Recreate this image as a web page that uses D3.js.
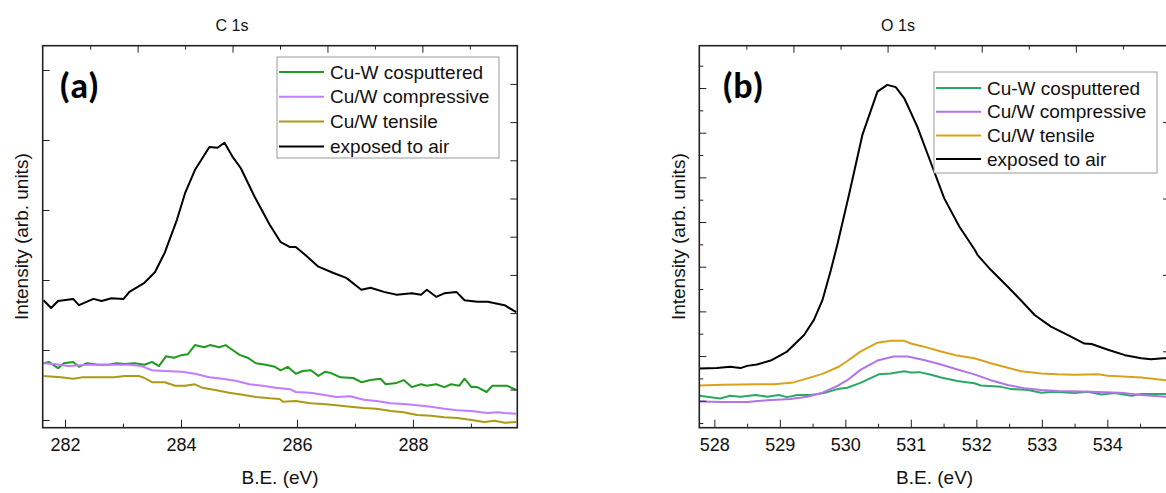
<!DOCTYPE html>
<html>
<head>
<meta charset="utf-8">
<script src="https://cdn.jsdelivr.net/npm/d3@7"></script>
<style>
  body { margin: 0; background: #fff; }
  svg text { font-family: "Liberation Sans", Arial, sans-serif; }
</style>
</head>
<body>
<svg id="chart" width="1166" height="493"></svg>
<script>
//////////////////// DATA ////////////////////

const seriesNames = ["Cu-W cosputtered", "Cu/W compressive", "Cu/W tensile", "exposed to air"];

// C 1s  [B.E. (eV), intensity (arb.)]
const c1sCosputtered = [[281.63,0.81],[281.72,0.83],[281.88,0.74],[281.98,0.81],[282.14,0.83],[282.24,0.76],[282.37,0.81],[282.57,0.79],[282.75,0.79],[282.89,0.81],[283.03,0.80],[283.20,0.81],[283.37,0.79],[283.50,0.83],[283.62,0.77],[283.74,0.91],[283.88,0.89],[284.02,0.93],[284.12,0.94],[284.24,1.07],[284.40,1.04],[284.50,1.07],[284.66,1.04],[284.77,1.07],[284.89,1.00],[285.01,0.93],[285.15,0.89],[285.29,0.81],[285.46,0.79],[285.62,0.76],[285.72,0.71],[285.84,0.76],[285.98,0.66],[286.10,0.70],[286.24,0.71],[286.37,0.63],[286.49,0.69],[286.59,0.67],[286.75,0.61],[286.97,0.60],[287.11,0.54],[287.27,0.57],[287.44,0.59],[287.53,0.51],[287.72,0.53],[287.84,0.57],[287.98,0.47],[288.14,0.51],[288.24,0.49],[288.40,0.51],[288.54,0.47],[288.66,0.51],[288.80,0.49],[288.89,0.59],[289.01,0.47],[289.11,0.47],[289.27,0.40],[289.37,0.49],[289.62,0.49],[289.78,0.43]];
const c1sCompressive = [[281.63,0.81],[281.81,0.80],[282.05,0.77],[282.40,0.79],[282.75,0.79],[283.10,0.79],[283.32,0.77],[283.50,0.71],[283.72,0.70],[284.02,0.69],[284.24,0.66],[284.49,0.61],[284.71,0.59],[284.94,0.56],[285.18,0.51],[285.41,0.49],[285.63,0.46],[285.88,0.44],[285.98,0.40],[286.23,0.39],[286.45,0.36],[286.68,0.33],[286.92,0.34],[287.15,0.29],[287.37,0.27],[287.62,0.24],[287.84,0.23],[288.07,0.21],[288.31,0.19],[288.54,0.16],[288.77,0.14],[289.01,0.13],[289.18,0.11],[289.29,0.10],[289.46,0.11],[289.58,0.10],[289.78,0.09]];
const c1sTensile = [[281.63,0.63],[281.93,0.61],[282.14,0.59],[282.31,0.61],[282.63,0.61],[282.85,0.61],[283.03,0.63],[283.27,0.63],[283.37,0.60],[283.50,0.54],[283.72,0.54],[283.90,0.49],[284.07,0.49],[284.24,0.51],[284.37,0.46],[284.59,0.43],[284.83,0.39],[285.06,0.36],[285.29,0.33],[285.53,0.31],[285.70,0.30],[285.76,0.26],[285.98,0.27],[286.23,0.24],[286.45,0.23],[286.68,0.21],[286.92,0.19],[287.15,0.17],[287.37,0.16],[287.62,0.13],[287.84,0.11],[288.07,0.07],[288.31,0.06],[288.54,0.04],[288.77,0.03],[289.01,0.00],[289.23,-0.03],[289.41,-0.01],[289.58,-0.04],[289.78,-0.03]];
const c1sAir = [[281.63,1.71],[281.76,1.60],[281.88,1.70],[282.14,1.73],[282.24,1.64],[282.49,1.73],[282.63,1.70],[282.80,1.74],[283.01,1.73],[283.11,1.83],[283.37,1.96],[283.55,2.11],[283.72,2.39],[283.93,2.86],[284.07,3.24],[284.24,3.57],[284.49,3.90],[284.63,3.89],[284.75,3.96],[284.89,3.76],[285.03,3.60],[285.27,3.19],[285.53,2.79],[285.72,2.54],[285.88,2.47],[285.98,2.47],[286.14,2.36],[286.37,2.19],[286.63,2.10],[286.85,2.03],[287.11,1.86],[287.27,1.89],[287.50,1.83],[287.72,1.79],[287.98,1.81],[288.14,1.79],[288.24,1.86],[288.40,1.76],[288.54,1.81],[288.75,1.83],[288.89,1.71],[289.11,1.69],[289.29,1.69],[289.58,1.64],[289.78,1.54]];

// O 1s  [B.E. (eV), intensity (arb.)]
const o1sCosputtered = [[527.77,0.11],[527.89,0.09],[528.09,0.05],[528.24,0.11],[528.40,0.09],[528.63,0.13],[528.81,0.09],[528.98,0.13],[529.11,0.08],[529.27,0.13],[529.47,0.13],[529.67,0.17],[529.88,0.26],[530.03,0.29],[530.23,0.40],[530.51,0.59],[530.69,0.61],[530.90,0.66],[531.00,0.63],[531.13,0.64],[531.31,0.58],[531.46,0.52],[531.71,0.44],[531.97,0.39],[532.07,0.34],[532.38,0.31],[532.53,0.26],[532.79,0.24],[532.99,0.18],[533.19,0.20],[533.50,0.17],[533.70,0.20],[533.91,0.14],[534.11,0.17],[534.37,0.11],[534.52,0.15],[534.96,0.15]];
const o1sCompressive = [[527.77,-0.02],[528.14,-0.03],[528.50,-0.03],[528.81,0.01],[529.16,0.04],[529.42,0.09],[529.65,0.18],[529.88,0.33],[530.03,0.46],[530.23,0.69],[530.49,0.90],[530.74,0.99],[530.95,0.99],[531.20,0.91],[531.46,0.81],[531.71,0.70],[531.97,0.59],[532.22,0.46],[532.48,0.35],[532.73,0.28],[532.99,0.24],[533.24,0.22],[533.76,0.20],[534.27,0.17],[534.52,0.13],[534.96,0.08]];
const o1sTensile = [[527.77,0.34],[528.14,0.36],[528.65,0.37],[528.91,0.37],[529.21,0.41],[529.42,0.50],[529.65,0.60],[529.90,0.76],[530.03,0.89],[530.23,1.10],[530.49,1.30],[530.69,1.34],[530.90,1.34],[531.00,1.28],[531.20,1.21],[531.46,1.10],[531.71,1.01],[531.97,0.95],[532.22,0.84],[532.48,0.74],[532.68,0.66],[532.99,0.61],[533.24,0.59],[533.50,0.58],[533.86,0.59],[534.01,0.56],[534.52,0.52],[534.96,0.45]];
const o1sAir = [[527.77,0.72],[528.04,0.73],[528.24,0.76],[528.40,0.73],[528.50,0.78],[528.65,0.81],[528.86,0.90],[529.11,1.10],[529.37,1.47],[529.52,1.81],[529.65,2.25],[529.78,2.93],[529.88,3.51],[530.06,4.64],[530.26,5.95],[530.49,6.92],[530.64,7.07],[530.77,7.02],[530.90,6.77],[531.10,6.13],[531.31,5.31],[531.51,4.53],[531.74,3.90],[531.97,3.39],[532.02,3.26],[532.22,2.93],[532.48,2.55],[532.68,2.25],[532.89,1.92],[533.14,1.66],[533.40,1.47],[533.65,1.28],[533.76,1.27],[534.01,1.14],[534.27,1.02],[534.52,0.95],[534.67,0.93],[534.85,0.95],[534.96,0.95]];

// tick values
const c1sXMajor = [282, 284, 286, 288];
const c1sXMinor = [283, 285, 287, 289];
const c1sYMajor = [0, 1, 2, 3, 4, 5];
const o1sXMajor = [528, 529, 530, 531, 532, 533, 534];
const o1sXMinor = [528.5, 529.5, 530.5, 531.5, 532.5, 533.5, 534.5];
const o1sYMajor = [0, 1, 2, 3, 4, 5, 6, 7];
const o1sYMinor = [-0.5, 0.5, 1.5, 2.5, 3.5, 4.5, 5.5, 6.5, 7.5];

//////////////////// DRAW ////////////////////

const svg = d3.select("#chart");

const panels = [
    {
        title: "C 1s", tag: "(a)",
        box: {left: 42.7, right: 517.3, top: 45.7, bottom: 427.7},
        xDomain: [281.615, 289.8], yDomain: [-0.11, 5.347],
        xMajor: c1sXMajor, xMinor: c1sXMinor, yMajor: c1sYMajor, yMinor: [],
        series: [c1sCosputtered, c1sCompressive, c1sTensile, c1sAir],
        colors: ["#1f9a1f", "#c27cff", "#aa9a14", "#000000"],
        titleX: 232, tagX: 59, yLabelX: 28,
        rightMinor: 7,
        legend: {x: 277, y: 57, w: 222, h: 101, row0: 15, step: 24.8}
    },
    {
        title: "O 1s", tag: "(b)",
        box: {left: 699.3, right: 1170, top: 45.7, bottom: 427.7},
        xDomain: [527.77, 534.957], yDomain: [-0.604, 7.947],
        xMajor: o1sXMajor, xMinor: o1sXMinor, yMajor: o1sYMajor, yMinor: o1sYMinor,
        series: [o1sCosputtered, o1sCompressive, o1sTensile, o1sAir],
        colors: ["#2aa865", "#b274e6", "#d9a21a", "#000000"],
        titleX: 898, tagX: 722, yLabelX: 685,
        rightMinor: 3,
        legend: {x: 934, y: 72, w: 223, h: 101, row0: 16, step: 23.7}
    }
];

function noDomain(g) { g.select(".domain").remove(); }

panels.forEach(p => {
    const b = p.box;
    const x = d3.scaleLinear().domain(p.xDomain).range([b.left, b.right]);
    const y = d3.scaleLinear().domain(p.yDomain).range([b.bottom, b.top]);
    // mirror axes (top / right) carry their own evenly spaced ticks
    const xTop = d3.scaleLinear().domain([0, 10]).range([b.left, b.right]);
    const yRight = d3.scaleLinear().domain([0, 10]).range([b.top, b.bottom]);

    const g = svg.append("g");

    // curves
    const line = d3.line().x(d => x(d[0])).y(d => y(d[1]));
    p.series.forEach((s, i) => {
        g.append("path")
            .datum(s)
            .attr("d", line)
            .attr("fill", "none")
            .attr("stroke", p.colors[i])
            .attr("stroke-width", 2)
            .attr("stroke-linejoin", "round");
    });

    // bottom axis
    const xAxis = g.append("g")
        .attr("transform", `translate(0,${b.bottom})`)
        .attr("color", "#222")
        .call(d3.axisBottom(x).tickValues(p.xMajor).tickSize(-8).tickPadding(11).tickFormat(d3.format("d")))
        .call(noDomain);
    xAxis.selectAll("text")
        .style("font-size", "18px")
        .attr("fill", "#111");
    g.append("g")
        .attr("transform", `translate(0,${b.bottom})`).attr("color", "#222")
        .call(d3.axisBottom(x).tickValues(p.xMinor).tickSize(-4).tickFormat(""))
        .call(noDomain);

    // top axis
    g.append("g")
        .attr("transform", `translate(0,${b.top})`).attr("color", "#222")
        .call(d3.axisTop(xTop).tickValues([2, 4, 6, 8]).tickSize(-7).tickFormat(""))
        .call(noDomain);
    g.append("g")
        .attr("transform", `translate(0,${b.top})`).attr("color", "#222")
        .call(d3.axisTop(xTop).tickValues([1, 3, 5, 7, 9]).tickSize(-4).tickFormat(""))
        .call(noDomain);

    // left axis
    g.append("g")
        .attr("transform", `translate(${b.left},0)`).attr("color", "#222")
        .call(d3.axisLeft(y).tickValues(p.yMajor).tickSize(-7).tickFormat(""))
        .call(noDomain);
    g.append("g")
        .attr("transform", `translate(${b.left},0)`).attr("color", "#222")
        .call(d3.axisLeft(y).tickValues(p.yMinor).tickSize(-4).tickFormat(""))
        .call(noDomain);

    // right axis
    g.append("g")
        .attr("transform", `translate(${b.right},0)`).attr("color", "#222")
        .call(d3.axisRight(yRight).tickValues([2, 4, 6, 8]).tickSize(-7).tickFormat(""))
        .call(noDomain);
    g.append("g")
        .attr("transform", `translate(${b.right},0)`).attr("color", "#222")
        .call(d3.axisRight(yRight).tickValues([1, 3, 5, 7, 9]).tickSize(-p.rightMinor).tickFormat(""))
        .call(noDomain);

    // frame
    g.append("rect")
        .attr("x", b.left).attr("y", b.top)
        .attr("width", b.right - b.left).attr("height", b.bottom - b.top)
        .attr("fill", "none")
        .attr("stroke", "#222")
        .attr("stroke-width", 1.6);

    // titles and labels
    g.append("text")
        .attr("x", p.titleX).attr("y", 31)
        .attr("text-anchor", "middle")
        .style("font-size", "16px").attr("fill", "#111")
        .text(p.title);

    g.append("text")
        .attr("x", p.tagX).attr("y", 98)
        .style("font-size", "36px").style("font-weight", "bold")
        .style("font-family", "Carlito, 'Open Sans', 'Liberation Sans', sans-serif")
        .attr("fill", "#000")
        .text(p.tag);

    g.append("text")
        .attr("x", (b.left + b.right) / 2).attr("y", 484)
        .attr("text-anchor", "middle")
        .style("font-size", "19px").attr("fill", "#111")
        .text("B.E. (eV)");

    g.append("text")
        .attr("transform", `translate(${p.yLabelX},${(b.top + b.bottom) / 2}) rotate(-90)`)
        .attr("text-anchor", "middle")
        .style("font-size", "19px").attr("fill", "#111")
        .text("Intensity (arb. units)");

    // legend
    const L = p.legend;
    const lg = g.append("g").attr("transform", `translate(${L.x},${L.y})`);
    lg.append("rect")
        .attr("width", L.w).attr("height", L.h)
        .attr("fill", "#fff")
        .attr("stroke", "#9a9a9a")
        .attr("stroke-width", 1);
    seriesNames.forEach((name, i) => {
        const ry = L.row0 + i * L.step;
        lg.append("line")
            .attr("x1", 2).attr("x2", 47)
            .attr("y1", ry).attr("y2", ry)
            .attr("stroke", p.colors[i])
            .attr("stroke-width", 2);
        lg.append("text")
            .attr("x", 53).attr("y", ry)
            .attr("dy", "0.35em")
            .style("font-size", "19px").attr("fill", "#111")
            .text(name);
    });
});
</script>
</body>
</html>
